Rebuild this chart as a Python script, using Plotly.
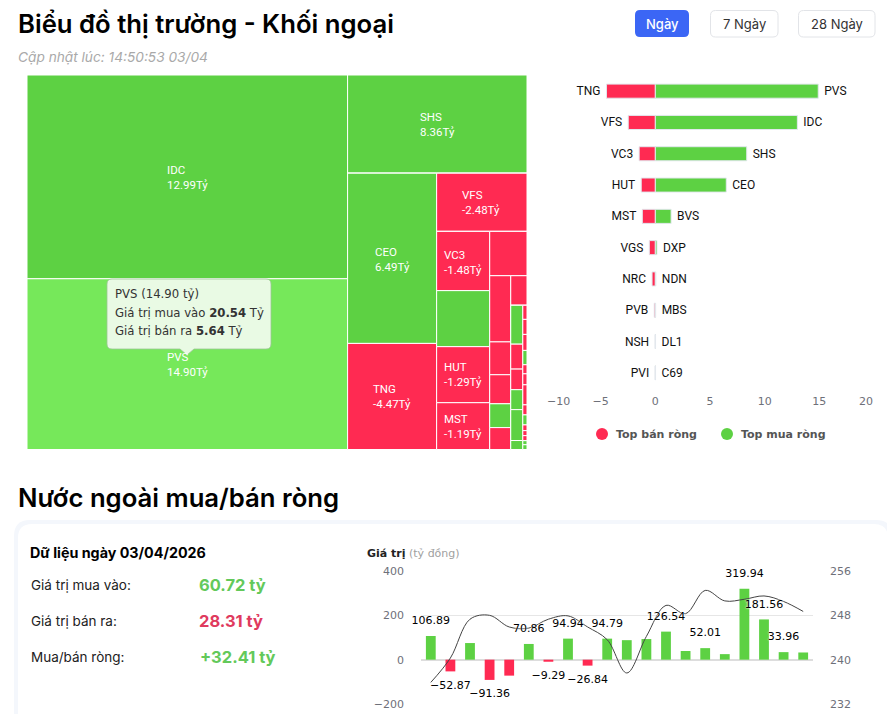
import plotly.graph_objects as go

W, H = 887, 714
GREEN = "#5DD143"
RED = "#FF2A52"
PVS_GREEN = "#76E85A"

# top net sell / net buy bars (ty dong)
sell_names = ["TNG", "VFS", "VC3", "HUT", "MST", "VGS", "NRC", "PVB", "NSH", "PVI"]
sell_values = [-4.47, -2.48, -1.48, -1.29, -1.19, -0.55, -0.3, -0.1, -0.02, -0.02]
buy_names = ["PVS", "IDC", "SHS", "CEO", "BVS", "DXP", "NDN", "MBS", "DL1", "C69"]
buy_values = [14.90, 12.99, 8.36, 6.49, 1.44, 0.15, 0.05, 0.03, 0.02, 0.02]

# treemap: nested groups so slice-dice gives the same cuts as the original
tile_ids = [
    "root", "left", "right", "IDC", "PVS", "SHS", "lower", "c1", "c2", "CEO", "TNG", "VFS", "rest",
    "A", "B", "VC3", "a2", "HUT", "MST", "b1", "Bl", "B1", "B2",
    "d1", "d2", "d3", "d4", "d5", "e1", "B2l", "C1", "C2",
    "f1", "f2", "f3", "f4", "f5", "f6",
    "g1", "g2", "g3", "g4", "g5", "g6", "g7", "g8", "g9", "g10", "g11", "g12", "g13", "g14",
]
tile_parents = [
    "", "root", "root", "left", "left", "right", "right", "lower", "lower", "c1", "c1", "c2", "c2",
    "rest", "rest", "A", "A", "A", "A", "B", "B", "Bl", "Bl",
    "B1", "B1", "B1", "B1", "B1", "B2", "B2", "B2l", "B2l",
    "C1", "C1", "C1", "C1", "C1", "C1",
    "C2", "C2", "C2", "C2", "C2", "C2", "C2", "C2", "C2", "C2", "C2", "C2", "C2", "C2",
]
tile_sizes = [
    0, 0, 0, 65.22, 54.65, 17.59, 0, 0, 0, 15.13, 9.43, 5.25, 0,
    0, 0, 3.14, 2.97, 2.97, 2.48, 1.65, 0, 0, 0,
    1.39, 0.69, 0.61, 0.50, 0.46, 0.48, 0, 0, 0,
    0.468, 0.30, 0.248, 0.24, 0.372, 0.108,
    0.059, 0.063, 0.067, 0.06, 0.038, 0.046, 0.084, 0.042, 0.042, 0.024, 0.021, 0.021, 0.017, 0.02,
]
tile_sides = [
    "", "", "", "g", "p", "g", "", "", "", "g", "r", "r", "",
    "", "", "r", "g", "r", "r", "r", "", "", "",
    "r", "r", "r", "g", "r", "r", "", "", "",
    "g", "r", "r", "g", "g", "g",
    "r", "r", "r", "g", "r", "r", "r", "r", "g", "r", "r", "r", "g", "g",
]
tile_labels = [
    ("IDC", "12.99Tỷ", 166, 170), ("PVS", "14.90Tỷ", 166, 357), ("SHS", "8.36Tỷ", 419, 117),
    ("CEO", "6.49Tỷ", 374, 252), ("TNG", "-4.47Tỷ", 372, 389), ("VFS", "-2.48Tỷ", 461, 195),
    ("VC3", "-1.48Tỷ", 443, 255), ("HUT", "-1.29Tỷ", 443, 367), ("MST", "-1.19Tỷ", 443, 419),
]

# net foreign buy/sell per session
flow_days = list(range(1, 21))
flow_values = [106.89, -52.87, 75, -91.36, -72, 70.86, -9.29, 94.94, -26.84, 94.79,
               88, 93, 126.54, 39, 52.01, 25, 319.94, 181.56, 33.96, 32.41]
flow_labels = ["106.89", "−52.87", "", "−91.36", "", "70.86", "−9.29", "94.94", "−26.84", "94.79",
               "", "", "126.54", "", "52.01", "", "319.94", "181.56", "33.96", ""]
index_values = [235.9, 240.3, 247.3, 248.0, 245.9, 245.7, 247.3, 247.9, 245.9, 243.6,
                237.6, 244.2, 249.8, 248.3, 252.5, 250.6, 250.9, 251.5, 250.5, 248.7]


def fx(x):
    return x / W


def fy(y):
    return 1 - y / H


def rounded(x0, y0, x1, y1, r, notch=None):
    # rounded rect path in paper coords, given in page pixels; notch = x of a pointer on the bottom edge
    pts = [
        f"M{fx(x0 + r)},{fy(y0)}", f"L{fx(x1 - r)},{fy(y0)}", f"Q{fx(x1)},{fy(y0)} {fx(x1)},{fy(y0 + r)}",
        f"L{fx(x1)},{fy(y1 - r)}", f"Q{fx(x1)},{fy(y1)} {fx(x1 - r)},{fy(y1)}",
    ]
    if notch:
        pts += [f"L{fx(notch + 7)},{fy(y1)}", f"L{fx(notch)},{fy(y1 + 6)}", f"L{fx(notch - 7)},{fy(y1)}"]
    pts += [
        f"L{fx(x0 + r)},{fy(y1)}", f"Q{fx(x0)},{fy(y1)} {fx(x0)},{fy(y1 - r)}",
        f"L{fx(x0)},{fy(y0 + r)}", f"Q{fx(x0)},{fy(y0)} {fx(x0 + r)},{fy(y0)}", "Z",
    ]
    return " ".join(pts)


def label(x, y, text, size=12, color="#333", family="DejaVu Sans", anchor="left", weight=None, xref="paper"):
    font = dict(size=size, color=color, family=family)
    if weight:
        font["weight"] = weight
    return dict(
        x=fx(x) if xref == "paper" else x, y=fy(y), xref=xref, yref="paper", text=text,
        showarrow=False, xanchor=anchor, yanchor="middle", align="left", font=font, borderpad=0,
    )


fig = go.Figure()

colors = {"g": GREEN, "r": RED, "p": PVS_GREEN, "": "#ffffff"}
fig.add_trace(go.Treemap(
    ids=tile_ids,
    labels=tile_ids,
    parents=tile_parents,
    values=tile_sizes,
    branchvalues="remainder",
    sort=False,
    marker=dict(
        colors=[colors[s] for s in tile_sides],
        line=dict(color="#ffffff", width=1),
        pad=dict(t=0, l=0, r=0, b=0),
        depthfade=False,
    ),
    tiling=dict(packing="slice-dice", pad=0),
    pathbar=dict(visible=False),
    textinfo="none",
    hoverinfo="skip",
    domain=dict(x=[fx(27), fx(527)], y=[fy(449.5), fy(75)]),
))

fig.add_trace(go.Bar(
    y=sell_names, x=sell_values, orientation="h", text=[n + "\u00a0" for n in sell_names], textposition="outside",
    marker=dict(color=RED, line=dict(color="#e3e8ee", width=1)), cliponaxis=False,
    textfont=dict(family="Roboto", size=12, color="#111"), xaxis="x", yaxis="y", showlegend=False,
))
fig.add_trace(go.Bar(
    y=sell_names, x=buy_values, orientation="h", text=["\u00a0" + n for n in buy_names], textposition="outside",
    marker=dict(color=GREEN, line=dict(color="#e3e8ee", width=1)), cliponaxis=False,
    textfont=dict(family="Roboto", size=12, color="#111"), xaxis="x", yaxis="y", showlegend=False,
))

fig.add_trace(go.Bar(
    x=flow_days, y=flow_values, width=0.5,
    marker=dict(color=[GREEN if v >= 0 else RED for v in flow_values], line=dict(width=0)),
    xaxis="x2", yaxis="y2", showlegend=False,
))
fig.add_trace(go.Scatter(
    x=flow_days, y=index_values, mode="lines",
    line=dict(color="#444444", width=1, shape="spline", smoothing=1),
    xaxis="x2", yaxis="y3", showlegend=False,
))
# labels sit above the line with a white halo, so they get their own overlay axis
fig.add_trace(go.Scatter(
    x=flow_days, y=flow_values, mode="markers+text", text=flow_labels,
    textposition=["top center" if v >= 0 else "bottom center" for v in flow_values],
    marker=dict(size=13, opacity=0),
    textfont=dict(family="DejaVu Sans", size=11, color="#000", shadow="0 0 2px #fff, 0 0 2px #fff"),
    xaxis="x2", yaxis="y4", showlegend=False, cliponaxis=False,
))

shapes = [
    dict(type="path", path=rounded(14, 520, 892, 730, 16), fillcolor="#f4f7fc", line=dict(width=0), xref="paper", yref="paper", layer="below"),
    dict(type="path", path=rounded(18, 524, 888, 730, 14), fillcolor="#ffffff", line=dict(width=0), xref="paper", yref="paper", layer="below"),
    dict(type="path", path=rounded(635, 10, 689, 37, 5), fillcolor="#3B66F5", line=dict(width=0), xref="paper", yref="paper"),
    dict(type="path", path=rounded(710.5, 10.5, 778, 37, 5), fillcolor="#fff", line=dict(color="#e2e4e8", width=1), xref="paper", yref="paper"),
    dict(type="path", path=rounded(798.5, 10.5, 875, 37, 5), fillcolor="#fff", line=dict(color="#e2e4e8", width=1), xref="paper", yref="paper"),
    dict(type="circle", x0=fx(596), x1=fx(608), y0=fy(440), y1=fy(428), fillcolor=RED, line=dict(width=0), xref="paper", yref="paper"),
    dict(type="circle", x0=fx(721), x1=fx(733), y0=fy(440), y1=fy(428), fillcolor=GREEN, line=dict(width=0), xref="paper", yref="paper"),
    # tooltip over the PVS tile
    dict(
        type="path", path=rounded(107, 279, 271, 349, 5, notch=187),
        fillcolor="rgba(236,250,232,0.97)", line=dict(color="#9cc596", width=0.8), xref="paper", yref="paper",
    ),
]

annotations = [
    label(17, 24, "Biểu đồ thị trường - Khối ngoại", 25.7, "#000", "Inter", weight=600),
    label(17, 57, "<i>Cập nhật lúc: 14:50:53 03/04</i>", 13.7, "#a9a9a9", "Inter"),
    label(662, 24, "Ngày", 13, "#fff", "Inter", "center", weight=500),
    label(744, 24, "7 Ngày", 13, "#333", "Inter", "center"),
    label(836.5, 24, "28 Ngày", 13, "#333", "Inter", "center"),
    label(17, 497, "Nước ngoài mua/bán ròng", 25.7, "#000", "Inter", weight=600),
    label(29, 552, "<b>Dữ liệu ngày 03/04/2026</b>", 14.3, "#000", "Inter"),
    label(30, 585, "Giá trị mua vào:", 13.5, "#222", "Inter"),
    label(30, 621, "Giá trị bán ra:", 13.5, "#222", "Inter"),
    label(30, 657, "Mua/bán ròng:", 13.5, "#222", "Inter"),
    label(198, 585, "<b>60.72 tỷ</b>", 16.5, "#63C95A", "Inter"),
    label(198, 621, "<b>28.31 tỷ</b>", 16.5, "#DF3A5E", "Inter"),
    label(199, 657, "<b>+32.41 tỷ</b>", 16.5, "#63C95A", "Inter"),
    label(366, 553.5, '<b>Giá trị</b> <span style="color:#a0a0a0">(tỷ đồng)</span>', 11, "#222"),
    label(615, 435, "<b>Top bán ròng</b>", 11, "#555"),
    label(740, 435, "<b>Top mua ròng</b>", 11, "#555"),
    label(114, 294, "PVS (14.90 tỷ)", 11.7, "#333"),
    label(114, 312.5, "Giá trị mua vào <b>20.54</b> Tỷ", 11.7, "#333"),
    label(114, 331, "Giá trị bán ra <b>5.64</b> Tỷ", 11.7, "#333"),
    label(-10, 401, "−10", 11, "#6e7079", xref="x"),
    label(20, 401, "20", 11, "#6e7079", anchor="right", xref="x"),
]
for name, value, x, y in tile_labels:
    annotations.append(label(x, y, name, 11.5, "#fff", "Roboto"))
    annotations.append(label(x, y + 15, value, 11.5, "#fff", "Roboto"))

fig.update_layout(
    width=W, height=H, autosize=False,
    margin=dict(l=0, r=0, t=0, b=0, autoexpand=False),
    paper_bgcolor="#ffffff", plot_bgcolor="rgba(0,0,0,0)",
    barmode="overlay",
    bargap=0.55,
    shapes=shapes,
    annotations=annotations,
    xaxis=dict(
        domain=[fx(546), fx(874)], range=[-10, 20], tickvals=[-5, 0, 5, 10, 15],
        showgrid=False, zeroline=False, showline=False, ticks="", anchor="y",
        tickfont=dict(family="DejaVu Sans", size=11, color="#6e7079"), ticklabelstandoff=4,
    ),
    yaxis=dict(
        domain=[fy(388.5), fy(75.5)], autorange="reversed", visible=False, anchor="x",
        type="category", categoryorder="array", categoryarray=sell_names,
    ),
    xaxis2=dict(domain=[fx(421), fx(813)], range=[0.5, 20.5], visible=False, anchor="y2"),
    yaxis2=dict(
        domain=[fy(704), fy(571)], range=[-200, 400], tickvals=[-200, 0, 200, 400], anchor="x2",
        showgrid=True, gridcolor="#e6e6e6", gridwidth=1, zeroline=True, zerolinecolor="#dddddd",
        showline=False, ticks="", ticklabelstandoff=16,
        tickfont=dict(family="DejaVu Sans", size=11, color="#6e7079"),
    ),
    yaxis3=dict(
        range=[232, 256], tickvals=[232, 240, 248, 256], overlaying="y2", side="right", anchor="x2",
        showgrid=False, zeroline=False, showline=False, ticks="", ticklabelstandoff=16,
        tickfont=dict(family="DejaVu Sans", size=11, color="#6e7079"),
    ),
    yaxis4=dict(range=[-200, 400], overlaying="y2", visible=False, anchor="x2"),
)

fig.write_html("out.html", config=dict(displayModeBar=False), post_script="document.body.style.margin='0';")
